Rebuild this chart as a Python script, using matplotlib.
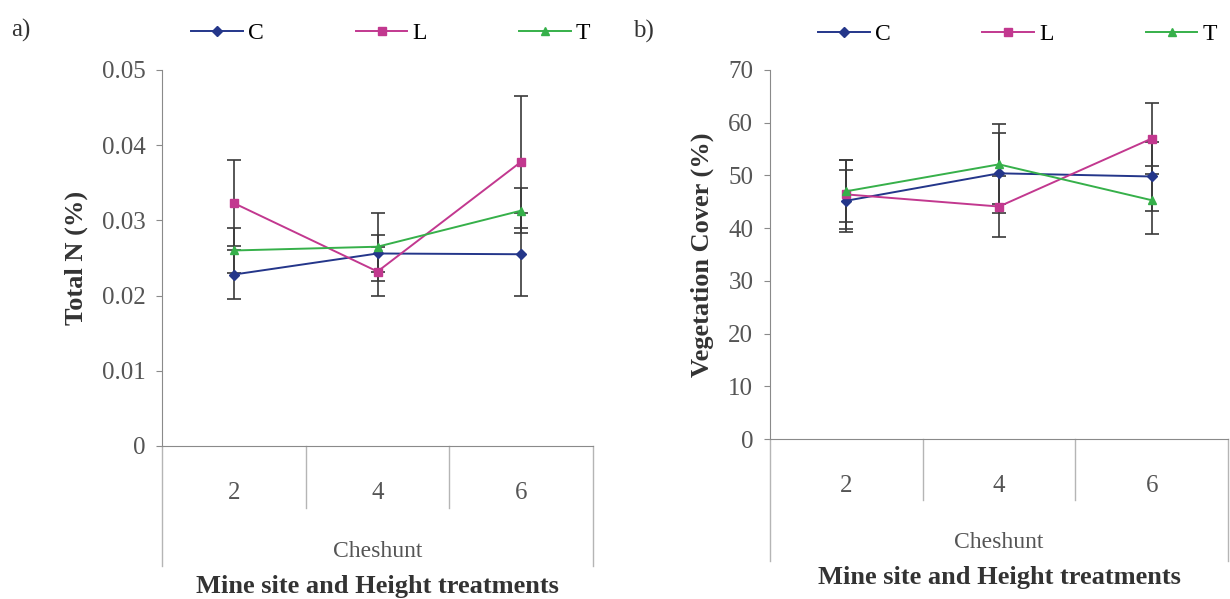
import matplotlib.pyplot as plt

heights = ['2', '4', '6']
site = 'Cheshunt'
series = ['C', 'L', 'T']

# panel a) Total N (%)
n_mean = {'C': [0.0228, 0.0256, 0.0255],
          'L': [0.0323, 0.0232, 0.0378],
          'T': [0.0260, 0.0265, 0.0313]}
n_err = {'C': [0.0033, 0.0024, 0.0055],
         'L': [0.0057, 0.0032, 0.0088],
         'T': [0.0030, 0.0045, 0.0030]}

# panel b) Vegetation cover (%)
v_mean = {'C': [45.2, 50.4, 49.8],
          'L': [46.4, 44.1, 57.0],
          'T': [47.0, 52.1, 45.3]}
v_err = {'C': [5.9, 7.6, 6.6],
         'L': [6.5, 5.8, 6.8],
         'T': [5.9, 7.6, 6.5]}

colors = {'C': '#24368a', 'L': '#c2388f', 'T': '#36b04a'}
markers = {'C': 'D', 'L': 's', 'T': '^'}
msize = {'C': 5, 'L': 6, 'T': 6}

plt.rcParams['font.family'] = ['Liberation Serif', 'DejaVu Serif']
grey = '#8a8a8a'
txt = '#555555'

fig = plt.figure(figsize=(12.3, 5.99), dpi=100)
ax_a = fig.add_axes([162 / 1230, 153 / 599, 431 / 1230, 376 / 599])
ax_b = fig.add_axes([770 / 1230, 160 / 599, 458 / 1230, 369 / 599])


def draw(ax, means, errs, ylim, yticks, fmt, ylabel, ylab_size, lab, lab_x,
         low_in, low_out, name_y, legend_x):
    x = list(range(len(heights)))
    for s in series:
        ax.errorbar(x, means[s], yerr=errs[s], fmt='none', ecolor='#3a3a3a',
                    elinewidth=1.2, capsize=5, capthick=1.2, zorder=2)
    for s in series:
        ax.plot(x, means[s], color=colors[s], marker=markers[s], ms=msize[s],
                lw=1.4, label=s, zorder=3)
    ax.set_xlim(-0.5, 2.5)
    ax.set_ylim(*ylim)
    ax.set_yticks(yticks)
    ax.set_yticklabels([fmt(v) for v in yticks], fontsize=18, color=txt)
    ax.set_xticks(x)
    ax.set_xticklabels(heights, fontsize=18, color=txt)
    ax.tick_params(axis='x', length=0, pad=26)
    ax.tick_params(axis='y', length=4, color=grey, pad=8)
    for side in ['top', 'right']:
        ax.spines[side].set_visible(False)
    for side in ['left', 'bottom']:
        ax.spines[side].set_color(grey)
    tr = ax.get_xaxis_transform()
    for b in [0.5, 1.5]:
        ax.plot([b, b], [0, low_in], transform=tr, color='#b5b5b5', lw=1, clip_on=False)
    for b in [-0.5, 2.5]:
        ax.plot([b, b], [0, low_out], transform=tr, color='#b5b5b5', lw=1, clip_on=False)
    ax.text(1, name_y, site, transform=tr, ha='center', va='center', fontsize=17, color=txt)
    ax.text(1, name_y - 0.095, 'Mine site and Height treatments', transform=tr,
            ha='center', va='center', fontsize=19, fontweight='bold', color='#333333')
    ax.set_ylabel(ylabel, fontsize=ylab_size, fontweight='bold', color='#333333', labelpad=10)
    ax.text(lab_x, 1.105, lab, transform=ax.transAxes, fontsize=18, color='#333333',
            ha='left', va='center')
    ax.legend(loc='center', bbox_to_anchor=(legend_x, 1.097), ncol=3, frameon=False,
              fontsize=17, handlelength=2.2, columnspacing=3.9, handletextpad=0.2)


draw(ax_a, n_mean, n_err, (0, 0.05), [0, 0.01, 0.02, 0.03, 0.04, 0.05],
     lambda v: '0' if v == 0 else f'{v:.2f}', 'Total N (%)', 19, 'a)', -0.35,
     -0.165, -0.32, -0.28, 0.53)
draw(ax_b, v_mean, v_err, (0, 70), [0, 10, 20, 30, 40, 50, 60, 70],
     lambda v: f'{v:d}', 'Vegetation Cover (%)', 19, 'b)', -0.3,
     -0.165, -0.33, -0.28, 0.54)

fig.savefig('out.png', dpi=100, facecolor='white')
